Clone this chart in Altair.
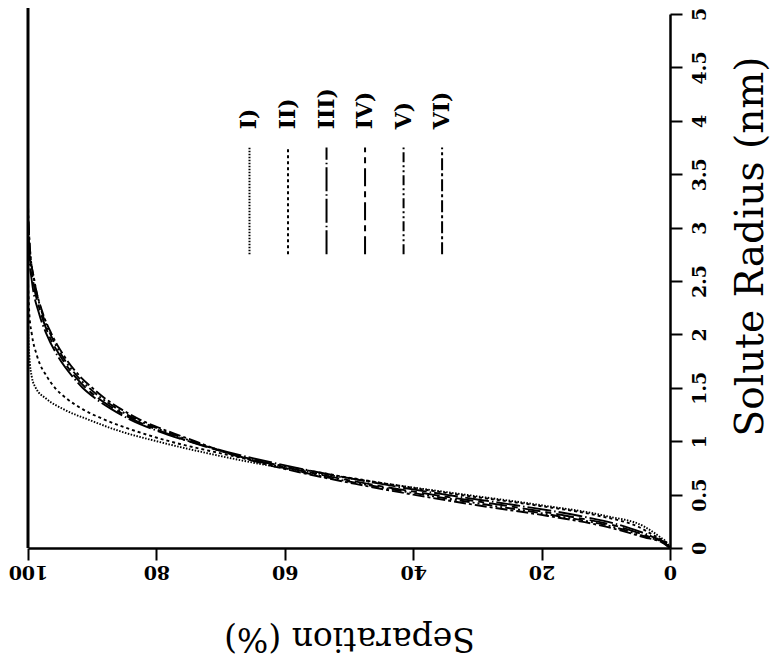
import altair as alt
import pandas as pd

# ---- data ----
curve_names = ["I)", "II)", "III)", "IV)", "V)", "VI)"]

r_I = [0, 0.05, 0.1, 0.2, 0.3, 0.4, 0.5, 0.6, 0.7, 0.8, 0.9, 1.0, 1.1, 1.2, 1.3, 1.4, 1.5, 1.6, 1.8, 2.0, 2.3]
s_I = [0, 0.5, 1.5, 4, 10, 20, 32, 44, 55, 65, 73, 80, 86, 90.5, 94.5, 97.2, 98.8, 99.4, 99.8, 99.95, 100]

r_II = [0, 0.05, 0.1, 0.2, 0.3, 0.4, 0.5, 0.6, 0.7, 0.8, 0.9, 1.0, 1.1, 1.2, 1.3, 1.4, 1.5, 1.6, 1.8, 2.0, 2.2, 2.5]
s_II = [0, 0.6, 2, 5, 11, 21, 33, 44, 54, 63, 71, 78, 83.5, 88, 91.5, 94, 95.8, 97, 98.6, 99.4, 99.8, 100]

r_III = [0, 0.05, 0.1, 0.2, 0.3, 0.4, 0.5, 0.6, 0.7, 0.8, 0.9, 1.0, 1.1, 1.2, 1.3, 1.4, 1.5, 1.6, 1.8, 2.0, 2.2, 2.5, 2.8, 3.0]
s_III = [0, 0.8, 2.5, 7, 14, 24, 35, 45, 54, 62, 69, 75, 80, 84, 87, 89.5, 91.5, 93, 95.4, 97.1, 98.3, 99.4, 99.9, 100]

r_IV = [0, 0.05, 0.1, 0.2, 0.3, 0.4, 0.5, 0.6, 0.7, 0.8, 0.9, 1.0, 1.1, 1.2, 1.3, 1.4, 1.5, 1.6, 1.8, 2.0, 2.2, 2.5, 2.8, 3.1]
s_IV = [0, 0.9, 3, 8, 16, 26, 37, 47, 55.5, 63, 69.5, 75, 79.5, 83.5, 86.5, 89, 91, 92.6, 95, 96.8, 98, 99.2, 99.8, 100]

r_V = [0, 0.05, 0.1, 0.2, 0.3, 0.4, 0.5, 0.6, 0.7, 0.8, 0.9, 1.0, 1.1, 1.2, 1.3, 1.4, 1.5, 1.6, 1.8, 2.0, 2.2, 2.5, 2.8, 3.1]
s_V = [0, 1.0, 3.5, 9, 17.5, 28, 38.5, 48, 56.5, 63.5, 69.5, 74.5, 79, 83, 86, 88.5, 90.5, 92.2, 94.7, 96.5, 97.8, 99, 99.7, 100]

r_VI = [0, 0.05, 0.1, 0.2, 0.3, 0.4, 0.5, 0.6, 0.7, 0.8, 0.9, 1.0, 1.1, 1.2, 1.3, 1.4, 1.5, 1.6, 1.8, 2.0, 2.2, 2.5, 2.8, 3.2]
s_VI = [0, 1.2, 4, 10, 19, 30, 40, 49, 57, 64, 69.5, 74, 78.5, 82.5, 85.5, 88, 90, 91.8, 94.4, 96.3, 97.7, 99, 99.7, 100]

dashes = [[1.5, 1.5], [3, 3], [24, 3, 1.5, 3], [18, 5, 6, 5], [10, 3, 2, 3, 2, 3], [12, 3, 3, 3]]

legend_sep = [65.5, 59.5, 53.5, 47.5, 41.5, 35.5]
legend_r_low = 2.75
legend_r_high = 3.75
legend_text_r = 3.92

x_ticks = [0, 20, 40, 60, 80, 100]
y_ticks = [0, 0.5, 1, 1.5, 2, 2.5, 3, 3.5, 4, 4.5, 5]

# ---- build tables ----
rows = []
for name, rr, ss in zip(curve_names,
                        [r_I, r_II, r_III, r_IV, r_V, r_VI],
                        [s_I, s_II, s_III, s_IV, s_V, s_VI]):
    for i, (a, b) in enumerate(zip(rr, ss)):
        rows.append({"curve": name, "r": a, "sep": b, "i": i})
df = pd.DataFrame(rows)

leg = pd.DataFrame({
    "curve": curve_names,
    "sep": legend_sep,
    "r1": [legend_r_low] * 6,
    "r2": [legend_r_high] * 6,
    "rt": [legend_text_r] * 6,
})

FONT = "DejaVu Serif"

xscale = alt.Scale(domain=[0, 100], reverse=True, nice=False)
yscale = alt.Scale(domain=[0, 5], nice=False)
dash_scale = alt.Scale(domain=curve_names, range=dashes)

xaxis = alt.Axis(
    values=x_ticks, title="Separation (%)", orient="bottom", grid=False,
    labelAngle=180, labelAlign="center", labelBaseline="bottom",
    labelFontSize=19, labelFontWeight="bold", labelFont=FONT, labelPadding=1,
    tickSize=12, tickWidth=2, domainWidth=2.5, domainColor="black", tickColor="black",
    labelColor="black", titleFont=FONT, titleFontSize=33, titleFontWeight="normal",
    titleAngle=180, titleBaseline="bottom", titlePadding=40, titleColor="black",
)
yaxis = alt.Axis(
    values=y_ticks, format="~g", title="Solute Radius (nm)", orient="right", grid=False,
    labelAngle=270, labelAlign="center", labelBaseline="top",
    labelFontSize=19, labelFontWeight="bold", labelFont=FONT, labelPadding=8,
    tickSize=12, tickWidth=2, domainWidth=2.5, domainColor="black", tickColor="black",
    labelColor="black", titleFont=FONT, titleFontSize=39, titleFontWeight="normal",
    titleAngle=270, titleBaseline="top", titlePadding=22, titleColor="black",
    titleAlign="center", titleY=232,
)

lines = alt.Chart(df).mark_line(color="black", strokeWidth=1.9, interpolate="monotone").encode(
    x=alt.X("sep:Q", scale=xscale, axis=xaxis),
    y=alt.Y("r:Q", scale=yscale, axis=yaxis),
    strokeDash=alt.StrokeDash("curve:N", scale=dash_scale, legend=None),
    detail="curve:N",
    order=alt.Order("i:Q"),
)

frame = alt.Chart(pd.DataFrame({"sep": [100]})).mark_rule(color="black", strokeWidth=3).encode(
    x=alt.X("sep:Q", scale=xscale),
    y=alt.value(-8),
    y2=alt.value(534),
)

leg_rules = alt.Chart(leg).mark_rule(color="black", strokeWidth=2).encode(
    x=alt.X("sep:Q", scale=xscale),
    y=alt.Y("r1:Q", scale=yscale),
    y2="r2:Q",
    strokeDash=alt.StrokeDash("curve:N", scale=dash_scale, legend=None),
)

leg_text = alt.Chart(leg).mark_text(
    angle=270, align="left", baseline="middle", font=FONT, fontSize=22,
    fontWeight="bold", color="black",
).encode(
    x=alt.X("sep:Q", scale=xscale),
    y=alt.Y("rt:Q", scale=yscale),
    text="curve:N",
)

chart = alt.layer(lines, frame, leg_rules, leg_text).properties(
    width=642, height=534,
    autosize=alt.AutoSizeParams(type="none"),
    padding={"left": 20, "top": 6, "right": 105, "bottom": 112},
    background="white",
).configure_view(stroke=None)

chart.save("out.html", embed_options={"renderer": "svg", "actions": False})
